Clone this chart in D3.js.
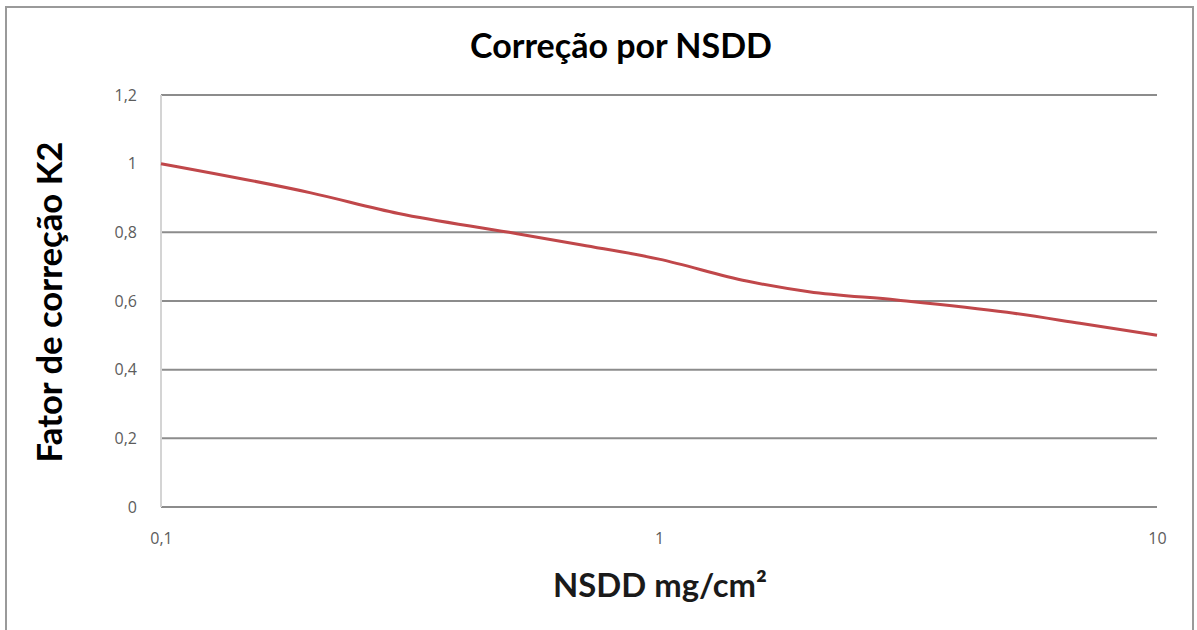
<!DOCTYPE html>
<html>
<head>
<meta charset="utf-8">
<script src="https://cdn.jsdelivr.net/npm/d3@7"></script>
<style>
  html, body { margin: 0; padding: 0; background: #ffffff; }
  svg { display: block; }
</style>
</head>
<body>
<svg id="chart" width="1197" height="630"></svg>
<script>
// NSDD (mg/cm²) and the matching correction factor K2
const nsdd = [0.1, 0.2, 0.3, 0.5, 0.7, 1, 1.5, 2, 3, 5, 7, 10];
const k2   = [1.0, 0.915, 0.855, 0.8, 0.763, 0.722, 0.658, 0.627, 0.603, 0.567, 0.535, 0.5];

// Axis ticks and their labels (decimal comma)
const xTickValues = [0.1, 1, 10];
const xTickLabels = ["0,1", "1", "10"];
const yTickValues = [0, 0.2, 0.4, 0.6, 0.8, 1, 1.2];
const yTickLabels = ["0", "0,2", "0,4", "0,6", "0,8", "1", "1,2"];
const gridValues  = [0, 0.2, 0.4, 0.6, 0.8, 1.2];

const titleText = "Correção por NSDD";
const xTitle = "NSDD mg/cm²";
const yTitle = "Fator de correção K2";

const svg = d3.select("#chart");
const plot = { left: 161, right: 1157, top: 95, bottom: 507 };

const x = d3.scaleLog().domain([0.1, 10]).range([plot.left, plot.right]);
const y = d3.scaleLinear().domain([0, 1.2]).range([plot.bottom, plot.top]);

// chart frame
svg.append("rect")
  .attr("x", 6).attr("y", 7)
  .attr("width", 1187).attr("height", 640)
  .attr("fill", "#ffffff")
  .attr("stroke", "#9a9a9a")
  .attr("stroke-width", 2);

// horizontal gridlines
svg.append("g").selectAll("line")
  .data(gridValues)
  .join("line")
  .attr("x1", plot.left).attr("x2", plot.right)
  .attr("y1", d => y(d)).attr("y2", d => y(d))
  .attr("stroke", "#8c8c8c")
  .attr("stroke-width", 2);

// vertical axis line
svg.append("line")
  .attr("x1", plot.left).attr("x2", plot.left)
  .attr("y1", plot.top).attr("y2", plot.bottom)
  .attr("stroke", "#d4d4d4")
  .attr("stroke-width", 2);

const tickFont = "'Open Sans', sans-serif";

// y axis labels
const yAxis = d3.axisLeft(y)
  .tickValues(yTickValues)
  .tickFormat((d, i) => yTickLabels[i])
  .tickSize(0)
  .tickPadding(24);
const gy = svg.append("g").attr("transform", `translate(${plot.left},0)`).call(yAxis);
gy.select(".domain").remove();
gy.selectAll("text")
  .attr("font-family", tickFont)
  .attr("font-size", 16)
  .attr("fill", "#5c5c5c");

// x axis labels
const xAxis = d3.axisBottom(x)
  .tickValues(xTickValues)
  .tickFormat((d, i) => xTickLabels[i])
  .tickSize(0)
  .tickPadding(26);
const gx = svg.append("g").attr("transform", `translate(0,${plot.bottom})`).call(xAxis);
gx.select(".domain").remove();
gx.selectAll("text")
  .attr("font-family", tickFont)
  .attr("font-size", 16)
  .attr("fill", "#5c5c5c");

// K2 curve
const line = d3.line()
  .x((d, i) => x(nsdd[i]))
  .y(d => y(d))
  .curve(d3.curveMonotoneX);
svg.append("path")
  .datum(k2)
  .attr("d", line)
  .attr("fill", "none")
  .attr("stroke", "#c0474a")
  .attr("stroke-width", 3)
  .attr("stroke-linejoin", "round");

// titles, each fitted to its drawn width
function fitText(sel, width) {
  const len = sel.node().getComputedTextLength();
  const fs = parseFloat(sel.attr("font-size"));
  sel.attr("font-size", fs * width / len);
}

const title = svg.append("text")
  .attr("x", 621).attr("y", 58)
  .attr("text-anchor", "middle")
  .attr("font-family", "Lato, 'Open Sans', sans-serif")
  .attr("font-weight", 700)
  .attr("font-size", 28)
  .attr("fill", "#000000")
  .text(titleText);
fitText(title, 302);

const xt = svg.append("text")
  .attr("x", 660).attr("y", 597)
  .attr("text-anchor", "middle")
  .attr("font-family", "Lato, 'Open Sans', sans-serif")
  .attr("font-weight", 700)
  .attr("font-size", 22)
  .attr("fill", "#1a1a1a")
  .text(xTitle);
fitText(xt, 214);

const yt = svg.append("text")
  .attr("transform", "translate(62,302) rotate(-90)")
  .attr("text-anchor", "middle")
  .attr("font-family", "Lato, 'Open Sans', sans-serif")
  .attr("font-weight", 700)
  .attr("font-size", 28)
  .attr("fill", "#000000")
  .text(yTitle);
fitText(yt, 321);
</script>
</body>
</html>
